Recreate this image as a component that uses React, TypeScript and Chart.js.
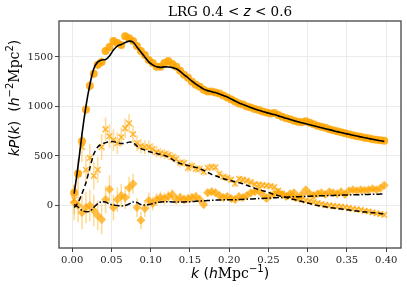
import React, { useEffect, useRef } from 'react';
import { Chart, registerables } from 'chart.js';
Chart.register(...registerables);

const kValues = [
  0.0025, 0.0075, 0.0125, 0.0175, 0.0225, 0.0275, 0.0325, 0.0375, 0.0425, 0.0475,
  0.0525, 0.0575, 0.0625, 0.0675, 0.0725, 0.0775, 0.0825, 0.0875, 0.0925, 0.0975,
  0.1025, 0.1075, 0.1125, 0.1175, 0.1225, 0.1275, 0.1325, 0.1375, 0.1425, 0.1475,
  0.1525, 0.1575, 0.1625, 0.1675, 0.1725, 0.1775, 0.1825, 0.1875, 0.1925, 0.1975,
  0.2025, 0.2075, 0.2125, 0.2175, 0.2225, 0.2275, 0.2325, 0.2375, 0.2425, 0.2475,
  0.2525, 0.2575, 0.2625, 0.2675, 0.2725, 0.2775, 0.2825, 0.2875, 0.2925, 0.2975,
  0.3025, 0.3075, 0.3125, 0.3175, 0.3225, 0.3275, 0.3325, 0.3375, 0.3425, 0.3475,
  0.3525, 0.3575, 0.3625, 0.3675, 0.3725, 0.3775, 0.3825, 0.3875, 0.3925, 0.3975,
];

// monopole data
const p0 = [
  130, 320, 650, 970, 1210, 1330, 1420, 1450, 1560, 1600,
  1660, 1640, 1620, 1710, 1690, 1660, 1610, 1560, 1520, 1470,
  1440, 1400, 1400, 1440, 1460, 1430, 1400, 1360, 1320, 1290,
  1250, 1220, 1200, 1170, 1150, 1150, 1140, 1130, 1110, 1090,
  1070, 1050, 1030, 1020, 1000, 990, 975, 965, 950, 940,
  930, 935, 915, 895, 880, 870, 855, 845, 840, 850,
  835, 820, 805, 795, 785, 770, 760, 750, 740, 730,
  720, 710, 700, 695, 685, 680, 670, 665, 660, 655,
];
const err0 = [
  60, 55, 55, 50, 50, 45, 45, 45, 40, 40,
  40, 38, 36, 35, 34, 32, 30, 30, 28, 28,
  26, 26, 25, 25, 24, 24, 23, 22, 22, 21,
  20, 20, 20, 19, 19, 18, 18, 18, 17, 17,
  17, 16, 16, 16, 15, 15, 15, 15, 14, 14,
  14, 14, 13, 13, 13, 13, 13, 12, 12, 12,
  12, 12, 12, 12, 11, 11, 11, 11, 11, 11,
  10, 10, 10, 10, 10, 10, 10, 10, 10, 10,
];
// quadrupole data
const p2 = [
  60, 320, 590, 360, 480, 300, 360, 590, 770, 700,
  660, 630, 690, 780, 830, 720, 630, 600, 590, 590,
  570, 540, 530, 520, 510, 490, 470, 430, 430, 380,
  400, 370, 370, 340, 380, 390, 385, 320, 290, 280,
  260, 220, 270, 260, 250, 235, 215, 210, 205, 200,
  195, 185, 150, 120, 105, 90, 80, 70, 60, 50,
  45, 35, 25, 15, 5, 0, -5, -10, -12, -18,
  -25, -35, -40, -45, -55, -60, -70, -80, -85, -95,
];
const err2 = [
  150, 150, 150, 140, 140, 140, 130, 130, 120, 120,
  110, 110, 100, 100, 95, 90, 80, 75, 70, 65,
  60, 58, 55, 52, 50, 48, 46, 45, 44, 43,
  42, 41, 40, 39, 38, 37, 36, 35, 35, 34,
  33, 33, 32, 32, 31, 31, 30, 30, 30, 29,
  29, 28, 28, 28, 27, 27, 27, 26, 26, 26,
  26, 25, 25, 25, 25, 24, 24, 24, 24, 24,
  23, 23, 23, 23, 23, 22, 22, 22, 22, 22,
];
// hexadecapole data
const p4 = [
  30, 0, -70, -20, 0, -50, -100, -140, 60, 165,
  -20, 60, 100, 80, 180, 220, -20, -150, -30, 50,
  20, 60, 80, 70, 90, 110, 60, 80, 60, 70,
  80, 90, 60, 10, 130, 140, 130, 100, 80, 90,
  70, 60, 90, 80, 100, 130, 140, 150, 110, 70,
  100, 120, 130, 110, 90, 120, 130, 80, 110, 160,
  120, 100, 120, 130, 110, 140, 130, 120, 140, 110,
  150, 160, 150, 160, 155, 160, 170, 160, 175, 205,
];
const err4 = [
  180, 170, 170, 160, 160, 160, 150, 150, 140, 140,
  130, 125, 120, 115, 110, 100, 95, 90, 85, 80,
  70, 65, 62, 60, 58, 55, 52, 50, 48, 47,
  46, 45, 44, 43, 42, 41, 40, 39, 38, 38,
  37, 36, 36, 35, 35, 34, 34, 33, 33, 33,
  32, 32, 32, 31, 31, 31, 30, 30, 30, 30,
  29, 29, 29, 29, 28, 28, 28, 28, 28, 27,
  27, 27, 27, 27, 26, 26, 26, 26, 26, 26,
];
// models
const model0 = [
  120, 400, 720, 1000, 1220, 1380, 1450, 1470, 1475, 1510,
  1570, 1610, 1625, 1645, 1660, 1650, 1600, 1550, 1500, 1450,
  1420, 1400, 1395, 1400, 1398, 1392, 1380, 1355, 1320, 1290,
  1255, 1225, 1200, 1175, 1160, 1150, 1140, 1125, 1110, 1095,
  1075, 1055, 1035, 1020, 1005, 990, 975, 962, 950, 938,
  928, 918, 905, 893, 880, 868, 857, 846, 836, 826,
  816, 806, 796, 786, 776, 766, 756, 746, 737, 728,
  719, 710, 701, 693, 685, 677, 669, 661, 654, 647,
];
const model2 = [
  -20, 30, 120, 230, 380, 520, 590, 620, 635, 645,
  645, 635, 625, 630, 640, 635, 600, 575, 560, 545,
  535, 525, 515, 505, 490, 465, 440, 425, 415, 405,
  395, 385, 370, 355, 335, 315, 300, 285, 270, 260,
  250, 240, 230, 220, 205, 190, 175, 160, 150, 140,
  125, 110, 100, 90, 80, 70, 60, 50, 40, 30,
  20, 10, 0, -5, -12, -20, -25, -30, -35, -40,
  -45, -50, -55, -60, -65, -68, -72, -76, -80, -85,
];
const model4 = [
  10, -15, -50, -62, -58, -20, 20, 38, 35, 15,
  5, 0, -5, 0, 15, 35, 30, 10, 5, 10,
  20, 30, 35, 38, 38, 36, 35, 35, 36, 38,
  40, 43, 45, 47, 50, 52, 54, 56, 57, 58,
  58, 58, 60, 62, 64, 66, 68, 70, 72, 74,
  76, 78, 80, 82, 84, 86, 88, 89, 90, 92,
  94, 96, 97, 98, 100, 101, 102, 104, 105, 106,
  107, 108, 109, 110, 111, 112, 113, 114, 115, 116,
];

const xTicks = [0, 0.05, 0.1, 0.15, 0.2, 0.25, 0.3, 0.35, 0.4];
const yTicks = [0, 500, 1000, 1500];

const pts = (ys: number[]) => kValues.map((k, i) => ({ x: k, y: ys[i] }));

type Seg = { t: string; f: string; sup?: boolean };
function drawRich(ctx: CanvasRenderingContext2D, segs: Seg[], x: number, y: number, rotate = false) {
  ctx.save();
  ctx.translate(x, y);
  if (rotate) ctx.rotate(-Math.PI / 2);
  ctx.textBaseline = 'alphabetic';
  ctx.fillStyle = '#000';
  let w = 0;
  const ws: number[] = [];
  for (const s of segs) {
    ctx.font = s.f;
    const m = ctx.measureText(s.t).width;
    ws.push(m);
    w += m;
  }
  let cx = -w / 2;
  segs.forEach((s, i) => {
    ctx.font = s.f;
    ctx.fillText(s.t, cx, s.sup ? -6 : 0);
    cx += ws[i];
  });
  ctx.restore();
}

const SERIF = '"DejaVu Serif"';
const SANS = '"DejaVu Sans"';

const decorPlugin = {
  id: 'decor',
  beforeDatasetsDraw(chart: any) {
    const ctx = chart.ctx as CanvasRenderingContext2D;
    const xs = chart.scales.x;
    const ys = chart.scales.y;
    const a = chart.chartArea;
    ctx.save();
    ctx.beginPath();
    ctx.rect(a.left, a.top, a.right - a.left, a.bottom - a.top);
    ctx.clip();
    chart.data.datasets.forEach((ds: any) => {
      if (!ds.errors) return;
      ctx.strokeStyle = ds.errorColor;
      ctx.lineWidth = 1.6;
      ds.data.forEach((p: any, i: number) => {
        const e = ds.errors[i];
        const px = xs.getPixelForValue(p.x);
        ctx.beginPath();
        ctx.moveTo(px, ys.getPixelForValue(p.y - e));
        ctx.lineTo(px, ys.getPixelForValue(p.y + e));
        ctx.stroke();
      });
    });
    ctx.restore();
  },
  afterDraw(chart: any) {
    const ctx = chart.ctx as CanvasRenderingContext2D;
    const a = chart.chartArea;
    ctx.save();
    ctx.strokeStyle = '#444';
    ctx.lineWidth = 1.3;
    ctx.strokeRect(a.left, a.top, a.right - a.left, a.bottom - a.top);
    ctx.restore();
    const cxm = (a.left + a.right) / 2;
    // title
    drawRich(ctx, [
      { t: 'LRG 0.4', f: `13.5px ${SERIF}` },
      { t: ' < ', f: `13.5px ${SANS}` },
      { t: 'z', f: `oblique 13.5px ${SANS}` },
      { t: ' < ', f: `13.5px ${SANS}` },
      { t: '0.6', f: `13.5px ${SERIF}` },
    ], cxm, 16);
    // x label
    drawRich(ctx, [
      { t: 'k', f: `oblique 14px ${SANS}` },
      { t: ' (', f: `14px ${SANS}` },
      { t: 'h', f: `oblique 14px ${SANS}` },
      { t: 'Mpc', f: `14px ${SERIF}` },
      { t: '\u22121', f: `10px ${SANS}`, sup: true },
      { t: ')', f: `14px ${SANS}` },
    ], cxm, 278);
    // y label
    drawRich(ctx, [
      { t: 'kP', f: `oblique 14px ${SANS}` },
      { t: '(', f: `14px ${SANS}` },
      { t: 'k', f: `oblique 14px ${SANS}` },
      { t: ')', f: `14px ${SANS}` },
      { t: '  (', f: `14px ${SANS}` },
      { t: 'h', f: `oblique 14px ${SANS}` },
      { t: '\u22122', f: `10px ${SANS}`, sup: true },
      { t: 'Mpc', f: `14px ${SERIF}` },
      { t: '2', f: `10px ${SANS}`, sup: true },
      { t: ')', f: `14px ${SANS}` },
    ], 19, 98, true);
  },
};

export default function App() {
  const ref = useRef<HTMLCanvasElement>(null);
  useEffect(() => {
    if (!ref.current) return;
    const orange = (a: number) => `rgba(255,165,0,${a})`;
    const chart = new Chart(ref.current, {
      type: 'scatter',
      data: {
        datasets: [
          { type: 'line', data: pts(model0), borderColor: '#000', borderWidth: 1.6, pointRadius: 0, tension: 0.3, order: 0 } as any,
          { type: 'line', data: pts(model2), borderColor: '#000', borderWidth: 1.5, borderDash: [5, 3], pointRadius: 0, tension: 0.3, order: 0 } as any,
          { type: 'line', data: pts(model4), borderColor: '#000', borderWidth: 1.5, borderDash: [6, 2, 1.5, 2], pointRadius: 0, tension: 0.3, order: 0 } as any,
          { data: pts(p4), errors: err4, errorColor: orange(0.4), pointStyle: 'rectRot', pointRadius: 4.5, backgroundColor: orange(0.7), borderWidth: 0, order: 3 } as any,
          { data: pts(p2), errors: err2, errorColor: orange(0.4), pointStyle: 'crossRot', pointRadius: 4, borderColor: orange(0.75), borderWidth: 1.6, order: 2 } as any,
          { data: pts(p0), errors: err0, errorColor: orange(0.5), pointStyle: 'circle', pointRadius: 4, backgroundColor: orange(0.85), borderWidth: 0, order: 1 } as any,
        ],
      },
      options: {
        responsive: false,
        animation: false,
        layout: { padding: { top: 21, right: 6, left: 0, bottom: 0 } },
        plugins: { legend: { display: false }, tooltip: { enabled: false }, title: { display: false } },
        scales: {
          x: {
            type: 'linear',
            min: -0.0168,
            max: 0.4188,
            afterBuildTicks: (s: any) => { s.ticks = xTicks.map((v) => ({ value: v })); },
            afterFit: (s: any) => { s.height = 39; },
            grid: { color: '#ebebeb', lineWidth: 1, tickLength: 4, tickColor: '#444' },
            border: { display: false },
            ticks: {
              font: { family: 'DejaVu Serif', size: 10 },
              color: '#222',
              padding: 2,
              maxRotation: 0,
              autoSkip: false,
              callback: (v: any) => Number(v).toFixed(2),
            },
          },
          y: {
            type: 'linear',
            min: -429,
            max: 1863,
            afterBuildTicks: (s: any) => { s.ticks = yTicks.map((v) => ({ value: v })); },
            afterFit: (s: any) => { s.width = 59; },
            grid: { color: '#ebebeb', lineWidth: 1, tickLength: 4, tickColor: '#444' },
            border: { display: false },
            ticks: {
              font: { family: 'DejaVu Serif', size: 10 },
              color: '#222',
              padding: 2,
              autoSkip: false,
              callback: (v: any) => String(v),
            },
          },
        },
      },
      plugins: [decorPlugin],
    } as any);
    return () => chart.destroy();
  }, []);
  return (
    <div style={{ position: 'absolute', left: 0, top: 0, width: 407, height: 287, background: '#fff' }}>
      <canvas ref={ref} width={407} height={287} style={{ display: 'block' }} />
    </div>
  );
}
